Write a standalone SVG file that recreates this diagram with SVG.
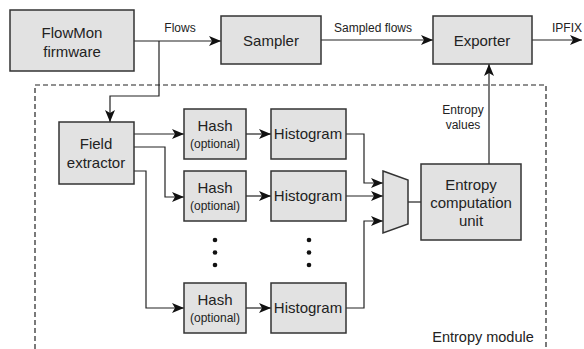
<svg xmlns="http://www.w3.org/2000/svg" width="584" height="349" viewBox="0 0 584 349">
<style>
.box{fill:#e2e2e2;stroke:#333;stroke-width:1.5}
.t{font-family:"Liberation Sans",Arial,sans-serif;font-size:15px;fill:#222;text-anchor:middle}
.s{font-family:"Liberation Sans",Arial,sans-serif;font-size:12px;fill:#222;text-anchor:middle}
.c{fill:none;stroke:#222;stroke-width:1.2}
.dot{fill:#111}
</style>
<defs>
<marker id="ah" viewBox="0 0 12 10" refX="12" refY="5" markerWidth="12" markerHeight="10" markerUnits="userSpaceOnUse" orient="auto">
<path d="M0,0 L12,5 L0,10 L3,5 Z" fill="#111"/>
</marker>
</defs>
<rect x="0" y="0" width="584" height="349" fill="#fff"/>
<g id="module">
<path d="M35,349 V85 H546 V349" fill="none" stroke="#222" stroke-width="1.2" stroke-dasharray="5,3"/>
<text class="t" x="483" y="342" style="font-size:14.5px">Entropy module</text>
</g>
<g id="connectors">
<path class="c" d="M134,41 H221" marker-end="url(#ah)"/>
<path class="c" d="M159,41 V96 H110 V122" marker-end="url(#ah)"/>
<path class="c" d="M321,40 H433" marker-end="url(#ah)"/>
<path class="c" d="M532,40 H582" marker-end="url(#ah)"/>
<path class="c" d="M489,164 V64" marker-end="url(#ah)"/>
<path class="c" d="M134,134 H184" marker-end="url(#ah)"/>
<path class="c" d="M134,147 H165 V197 H184" marker-end="url(#ah)"/>
<path class="c" d="M134,171 H146 V308 H184" marker-end="url(#ah)"/>
<path class="c" d="M246,134 H271" marker-end="url(#ah)"/>
<path class="c" d="M246,196 H271" marker-end="url(#ah)"/>
<path class="c" d="M246,308 H271" marker-end="url(#ah)"/>
<path class="c" d="M346,134 H364 V183 H383" marker-end="url(#ah)"/>
<path class="c" d="M346,196 H383" marker-end="url(#ah)"/>
<path class="c" d="M346,308 H364 V221 H383" marker-end="url(#ah)"/>
<path class="c" d="M408,202 H421"/>
<text class="s" x="180" y="32">Flows</text>
<text class="s" x="373" y="32">Sampled flows</text>
<text class="s" x="567" y="32">IPFIX</text>
<text class="s" x="463" y="114">Entropy</text>
<text class="s" x="463" y="129">values</text>
</g>
<g id="flowmon"><rect class="box" x="10" y="10" width="124" height="61"/><text class="t" x="72" y="38">FlowMon</text><text class="t" x="72" y="57">firmware</text></g>
<g id="sampler"><rect class="box" x="221" y="16" width="100" height="48"/><text class="t" x="271" y="46">Sampler</text></g>
<g id="exporter"><rect class="box" x="433" y="16" width="99" height="48"/><text class="t" x="482" y="46">Exporter</text></g>
<g id="field-extractor"><rect class="box" x="59" y="122" width="75" height="62"/><text class="t" x="96" y="149">Field</text><text class="t" x="96" y="168">extractor</text></g>
<g id="hash1"><rect class="box" x="184" y="109" width="62" height="50"/><text class="t" x="215" y="131">Hash</text><text class="s" x="215" y="148">(optional)</text></g>
<g id="hash2"><rect class="box" x="184" y="171" width="62" height="50"/><text class="t" x="215" y="193">Hash</text><text class="s" x="215" y="210">(optional)</text></g>
<g id="hash3"><rect class="box" x="184" y="283" width="62" height="50"/><text class="t" x="215" y="305">Hash</text><text class="s" x="215" y="322">(optional)</text></g>
<g id="hist1"><rect class="box" x="271" y="109" width="75" height="50"/><text class="t" x="308" y="139">Histogram</text></g>
<g id="hist2"><rect class="box" x="271" y="171" width="75" height="50"/><text class="t" x="308" y="201">Histogram</text></g>
<g id="hist3"><rect class="box" x="271" y="283" width="75" height="50"/><text class="t" x="308" y="313">Histogram</text></g>
<g id="dots">
<circle class="dot" cx="215" cy="240" r="2.3"/><circle class="dot" cx="215" cy="252.5" r="2.3"/><circle class="dot" cx="215" cy="265" r="2.3"/>
<circle class="dot" cx="309" cy="240" r="2.3"/><circle class="dot" cx="309" cy="252.5" r="2.3"/><circle class="dot" cx="309" cy="265" r="2.3"/>
</g>
<g id="mux"><polygon class="box" points="383,171 408,180 408,224 383,233"/></g>
<g id="entropy-unit"><rect class="box" x="421" y="164" width="100" height="76"/><text class="t" x="471" y="190">Entropy</text><text class="t" x="471" y="208">computation</text><text class="t" x="471" y="226">unit</text></g>
</svg>
